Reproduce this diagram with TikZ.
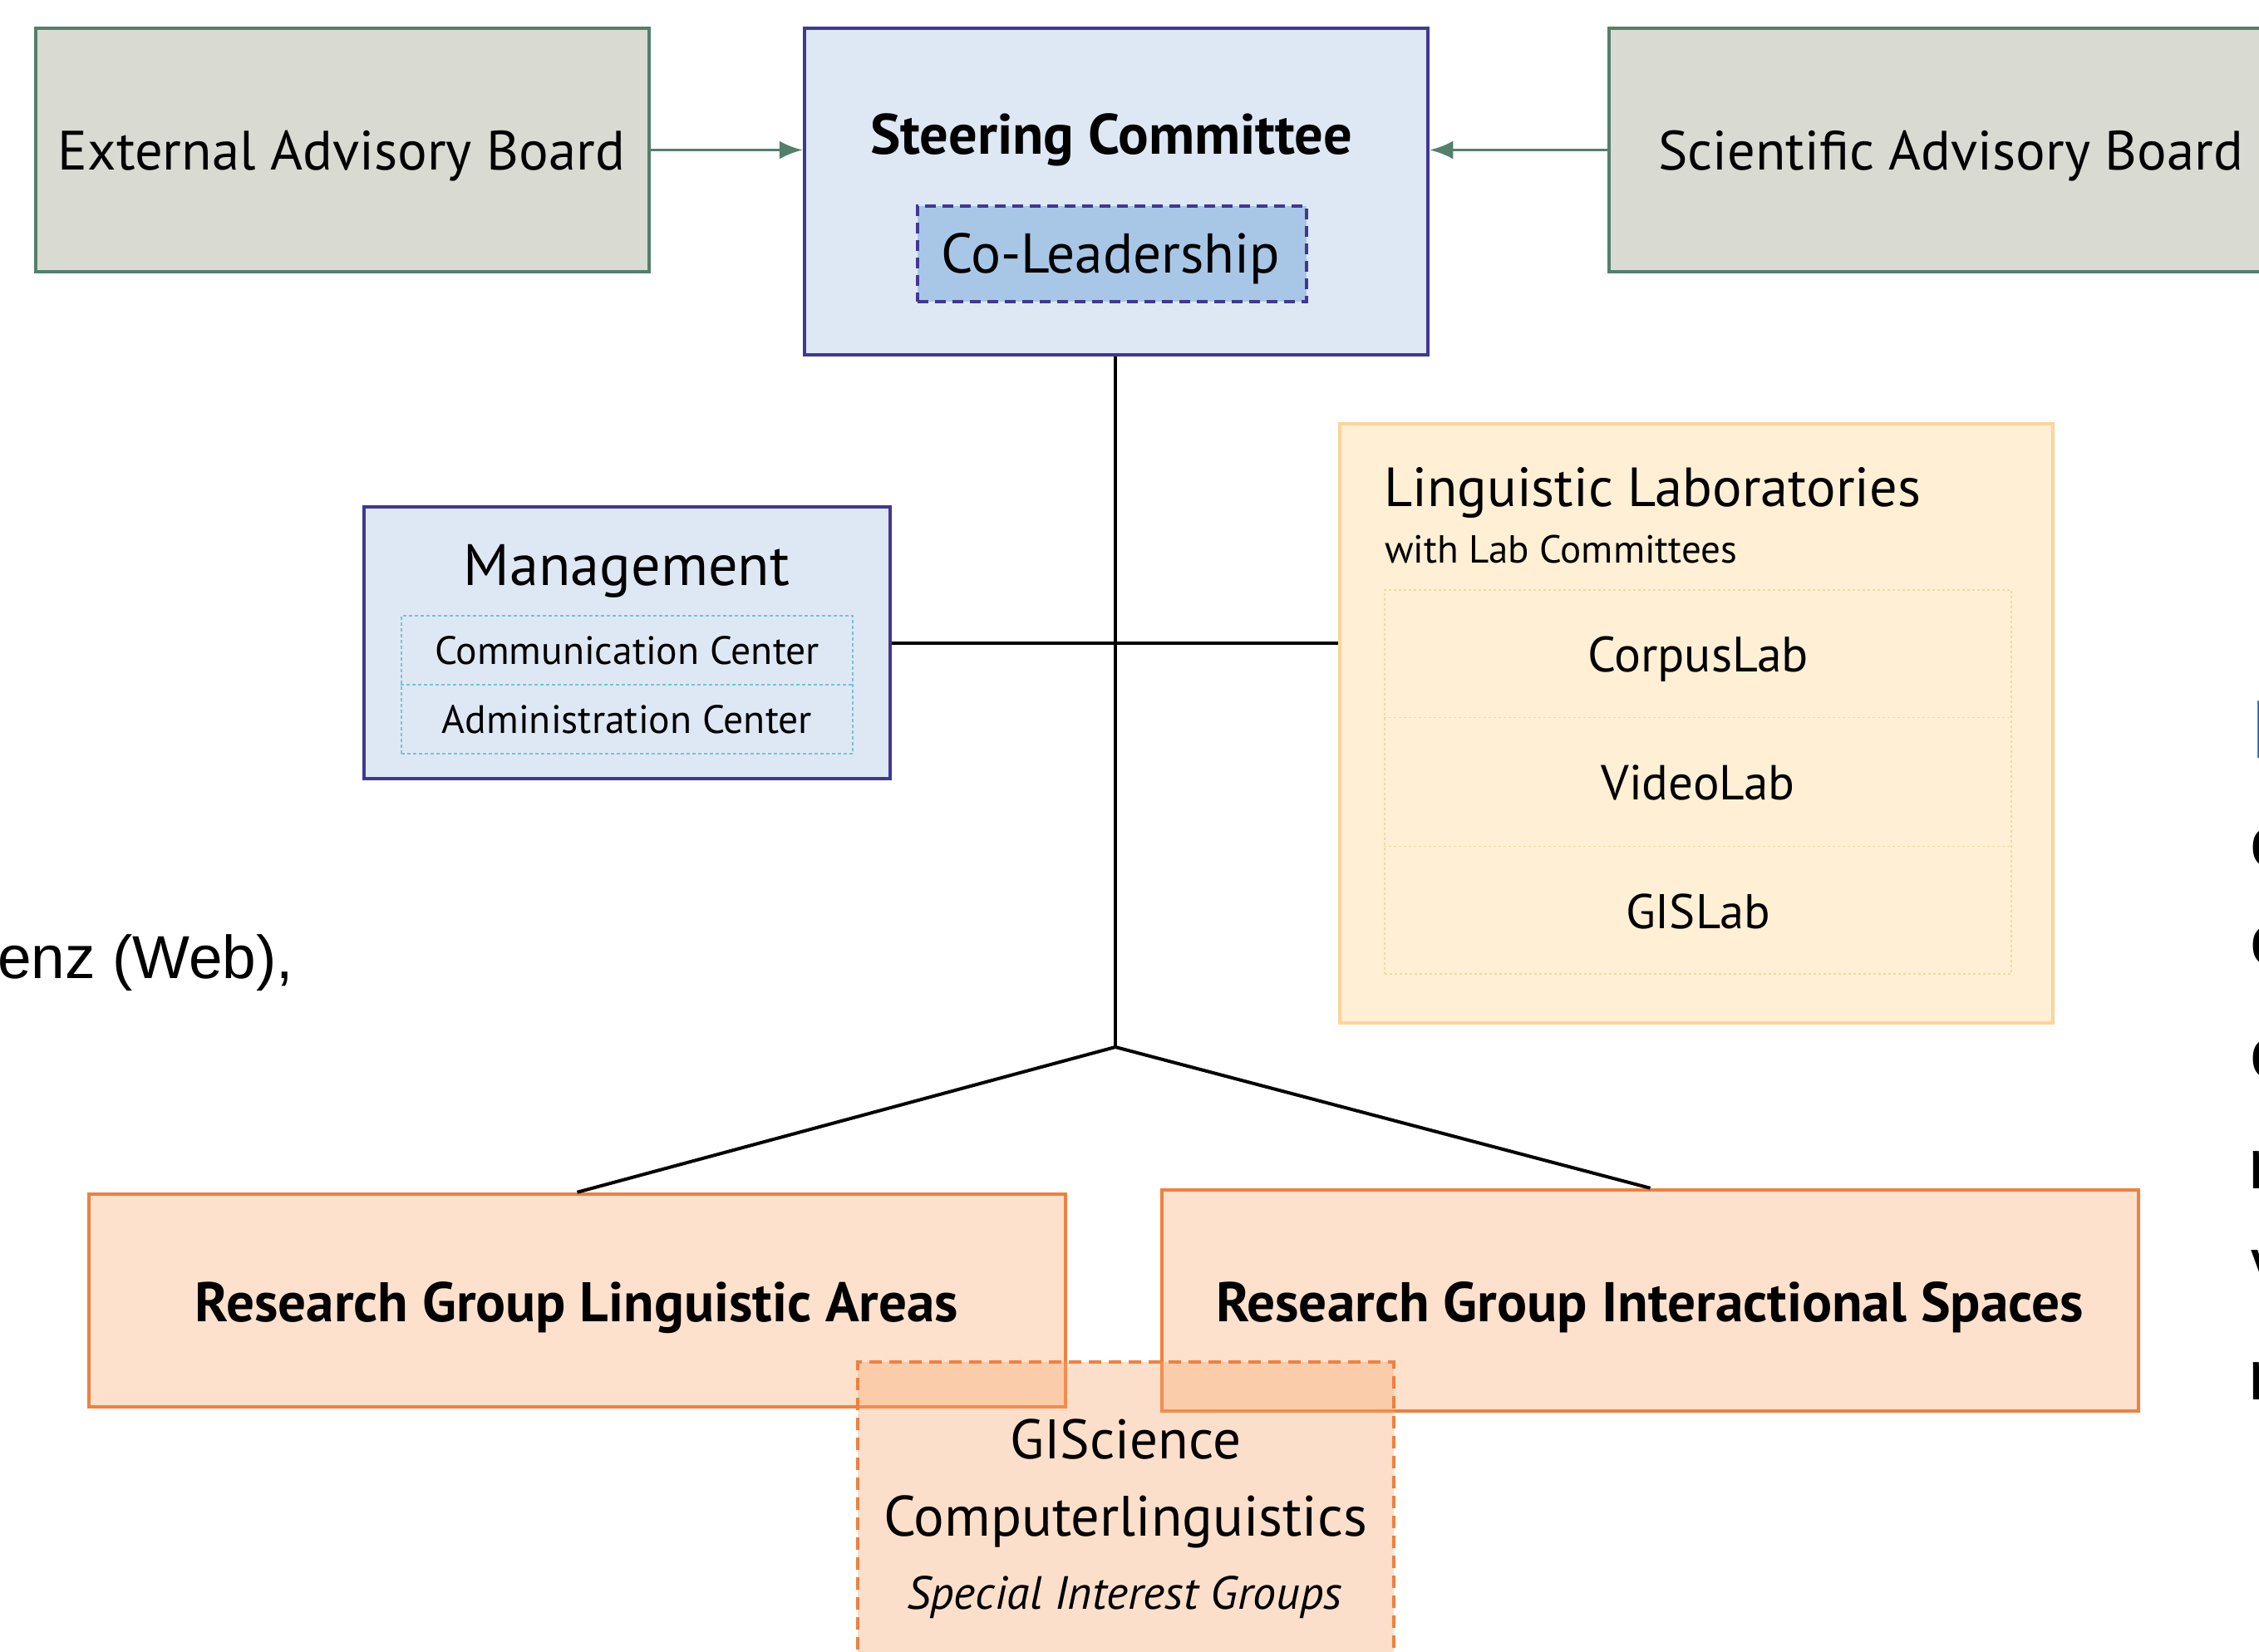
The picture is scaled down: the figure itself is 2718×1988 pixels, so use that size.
\documentclass[tikz,border=0pt]{standalone}
\usepackage{fontspec}
\setmainfont{PT Sans}
\newfontfamily\arialfont{Liberation Sans}
\usepackage{graphicx}
\usetikzlibrary{arrows.meta,calc}
\definecolor{advfill}{HTML}{D9DBD2}
\definecolor{advdraw}{HTML}{52806C}
\definecolor{scfill}{HTML}{DEE8F4}
\definecolor{scdraw}{HTML}{403891}
\definecolor{colfill}{HTML}{A8C7E6}
\definecolor{mgdot}{HTML}{74C2D6}
\definecolor{llfill}{HTML}{FFF0D5}
\definecolor{lldraw}{HTML}{FCD597}
\definecolor{lldot}{HTML}{EEDAA4}
\definecolor{rgfill}{HTML}{FDE1CC}
\definecolor{rgdraw}{HTML}{F0803F}
\definecolor{sigtint}{HTML}{F9A66A}
\definecolor{headblue}{HTML}{2F66B3}
\newcommand{\fitw}[2]{\resizebox{#1pt}{!}{\fontsize{60}{72}\selectfont #2}}
\begin{document}
\begin{tikzpicture}[x=1pt,y=-1pt,
  box/.style={rectangle, inner sep=0pt, line width=4.5pt},
  advbox/.style={box, fill=advfill, draw=advdraw},
  bluebox/.style={box, fill=scfill, draw=scdraw},
  colbox/.style={box, fill=colfill, draw=scdraw, line width=3.5pt, dash pattern=on 13pt off 8pt},
  mgdotbox/.style={rectangle, inner sep=0pt, draw=mgdot, line width=1.5pt, dash pattern=on 4pt off 3pt},
  mgdotline/.style={draw=mgdot, line width=1.5pt, dash pattern=on 4pt off 3pt},
  llbox/.style={box, fill=llfill, draw=lldraw},
  lldotbox/.style={rectangle, inner sep=0pt, draw=lldot, line width=1.5pt, dash pattern=on 3pt off 3pt},
  lldotline/.style={draw=lldot, line width=1.5pt, dash pattern=on 3pt off 3pt},
  rgbox/.style={box, fill=rgfill, draw=rgdraw},
  sigbox/.style={rectangle, inner sep=0pt, fill=sigtint, fill opacity=0.35, draw=rgdraw, draw opacity=1, line width=4pt, dash pattern=on 15pt off 9pt},
  lbl/.style={inner sep=0pt, anchor=base},
  lblw/.style={inner sep=0pt, anchor=base west},
  link/.style={line width=4pt, black},
  garrow/.style={line width=3.5pt, advdraw, -{Latex[length=28pt,width=22pt]}},
  frag/.style={inner sep=0pt, anchor=base west, font=\arialfont\fontsize{85}{100}\selectfont}
]
\useasboundingbox (0,0) rectangle (2718,1988);
\clip (0,0) rectangle (2718,1988);
\fill[white] (0,0) rectangle (2718,1988);

% top row
\node[advbox, minimum width=738pt, minimum height=293pt] (eab) at (412,180.5) {};
\node[bluebox, minimum width=750pt, minimum height=393pt] (sc) at (1343,230.5) {};
\node[colbox, minimum width=468pt, minimum height=115pt] (col) at (1338,305.5) {};
\node[advbox, minimum width=824pt, minimum height=293pt] (sab) at (2348,180.5) {};

\node[lbl] (teab) at (411,205) {\fitw{682}{External Advisory Board}};
\node[lbl] (tsab) at (2347,205) {\fitw{704}{Scientific Advisory Board}};
\node[lbl] (tsc) at (1337,186) {\fitw{580}{\bfseries Steering Committee}};
\node[lbl] (tcol) at (1336,328) {\fitw{408}{Co-Leadership}};

\draw[garrow] (eab.east) -- (sc.west |- eab.east);
\draw[garrow] (sab.west) -- (sc.east |- sab.west);

% management
\node[bluebox, minimum width=633pt, minimum height=327pt] (mg) at (754.5,773.5) {};
\node[mgdotbox, minimum width=543pt, minimum height=166pt] (mgin) at (754.5,824) {};
\draw[mgdotline] (mgin.west) -- (mgin.east);
\node[lbl] (tmg) at (754,704) {\fitw{392}{Management}};
\node[lbl] (tcc) at (754.5,799) {\fitw{463}{Communication Center}};
\node[lbl] (tac) at (754.5,882) {\fitw{445}{Administration Center}};

% linguistic laboratories
\node[llbox, minimum width=858pt, minimum height=721pt] (ll) at (2041,870.5) {};
\node[lldotbox, minimum width=754pt, minimum height=462pt] (llin) at (2043,941) {};
\draw[lldotline] ($(llin.north west)!0.3333!(llin.south west)$) -- ($(llin.north east)!0.3333!(llin.south east)$);
\draw[lldotline] ($(llin.north west)!0.6667!(llin.south west)$) -- ($(llin.north east)!0.6667!(llin.south east)$);
\node[lblw] (tll) at (1665,609) {\fitw{646}{Linguistic Laboratories}};
\node[lblw] (tllc) at (1666,677) {\fitw{424}{with Lab Committees}};
\node[lbl] (tcorp) at (2043,808) {\fitw{266}{CorpusLab}};
\node[lbl] (tvid) at (2043,962) {\fitw{233}{VideoLab}};
\node[lbl] (tgis) at (2043,1117) {\fitw{174}{GISLab}};

% connectors
\coordinate (junc) at (1342,1260);
\draw[link] (sc.south -| junc) -- (junc);
\draw[link] (mg.east) -- (ll.west |- mg.east);

% research groups
\node[rgbox, minimum width=1175pt, minimum height=256pt] (rgla) at (694.5,1565) {};
\node[rgbox, minimum width=1175pt, minimum height=266pt] (rgis) at (1985.5,1565) {};
\draw[link] (junc) -- (rgla.north);
\draw[link] (junc) -- (rgis.north);
\node[lbl] (trgla) at (694,1590) {\fitw{918}{\bfseries Research Group Linguistic Areas}};
\node[lbl] (trgis) at (1985,1590) {\fitw{1044}{\bfseries Research Group Interactional Spaces}};

% special interest groups
\node[sigbox, minimum width=645pt, minimum height=371pt] (sig) at (1354.5,1824.5) {};
\node[lbl] (tgisc) at (1354,1755) {\fitw{278}{GIScience}};
\node[lbl] (tcomp) at (1354,1848) {\fitw{582}{Computerlinguistics}};
\node[lbl] (tsig) at (1353,1936) {\fitw{524}{\itshape Special Interest Groups}};

% cut-off slide text at the edges
\node[inner sep=0pt, anchor=base east, font=\arialfont\fontsize{73}{88}\selectfont] (left) at (353,1177) {enz (Web),};
\node[inner sep=0pt, anchor=base west, font=\arialfont\fontsize{100}{120}\selectfont, text=headblue] (f0) at (2708,912) {D};
\node[frag] (f1) at (2707,1042) {c};
\node[frag] (f2) at (2707,1160) {c};
\node[frag] (f3) at (2707,1296) {c};
\node[frag] (f4) at (2705,1430) {n};
\node[frag] (f5) at (2708,1549) {v};
\node[frag] (f6) at (2705,1684) {n};
\end{tikzpicture}
\end{document}
